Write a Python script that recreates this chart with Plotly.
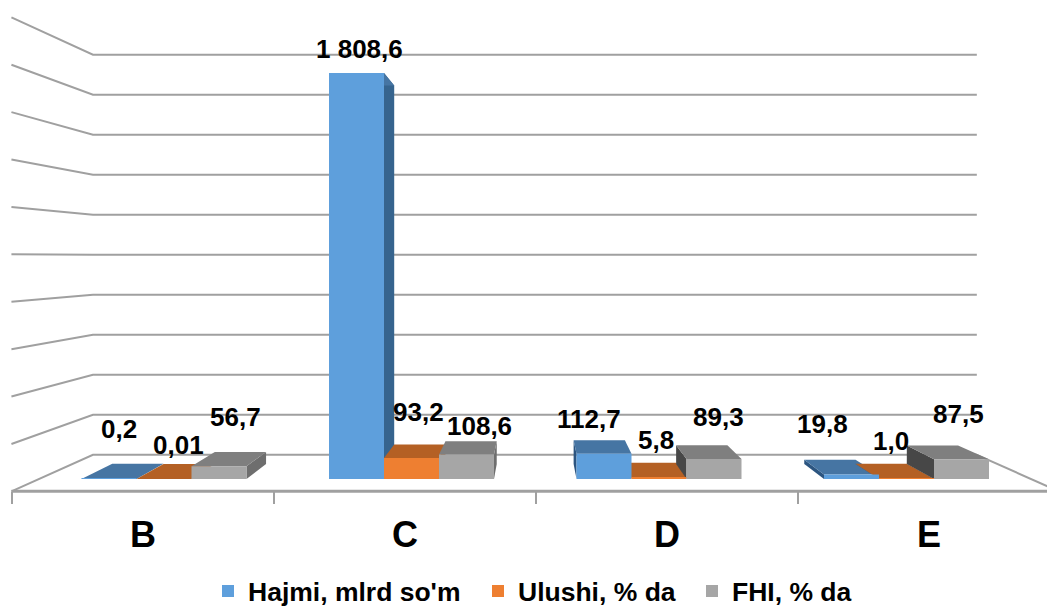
import plotly.graph_objects as go

categories = ["B", "C", "D", "E"]
series_names = ["Hajmi, mlrd so'm", "Ulushi, % da", "FHI, % da"]
hajmi = [0.2, 1808.6, 112.7, 19.8]
ulushi = [0.01, 93.2, 5.8, 1.0]
fhi = [56.7, 108.6, 89.3, 87.5]
hajmi_labels = ["0,2", "1 808,6", "112,7", "19,8"]
ulushi_labels = ["0,01", "93,2", "5,8", "1,0"]
fhi_labels = ["56,7", "108,6", "89,3", "87,5"]
grid_values = [0, 200, 400, 600, 800, 1000, 1200, 1400, 1600, 1800, 2000]

# styling
front_colors = ["#5E9FDC", "#EE7F31", "#A6A6A6"]
top_colors = ["#4675A3", "#B46024", "#7F7F7F"]
right_colors = ["#36648E", "#8F4C1D", "#6E6E6E"]
left_colors = ["#2C5580", "#7A4018", "#474747"]
grid_color = "#A0A0A0"
font = "Liberation Sans"

# axis mapping: value and group index to the page
W, H = 1047, 608
PX_X0, PX_PER_GROUP = 164.0, 247.5
PX_Y0, PX_PER_VAL = 479.0, 0.2245
x_range = [-PX_X0 / PX_PER_GROUP, (W - PX_X0) / PX_PER_GROUP]
y_range = [(PX_Y0 - H) / PX_PER_VAL, PX_Y0 / PX_PER_VAL]
BAR_W = 55 / PX_PER_GROUP

# perspective: everything recedes toward a vanishing point (data units)
VP_X, VP_V = (534 - PX_X0) / PX_PER_GROUP, (PX_Y0 - 257) / PX_PER_VAL
T_BAR, T_WALL, T_FRONT = 0.068, 0.109, -0.0557
WALL_L, WALL_R = (39 - PX_X0) / PX_PER_GROUP, (1031 - PX_X0) / PX_PER_GROUP


def proj(x, v, t):
    return x + (VP_X - x) * t, v + (VP_V - v) * t


def poly(points):
    xs, ys = zip(*points)
    return list(xs) + [xs[0]], list(ys) + [ys[0]]


fig = go.Figure()

# wall and floor lines
gx, gy = [], []
for v in grid_values:
    for p in (proj(WALL_L, v, T_FRONT), proj(WALL_L, v, T_WALL), proj(WALL_R, v, T_WALL)):
        gx.append(p[0])
        gy.append(p[1])
    gx.append(None)
    gy.append(None)
for p in (proj(WALL_R, 0, T_WALL), proj(WALL_R, 0, T_FRONT)):
    gx.append(p[0])
    gy.append(p[1])
fig.add_trace(go.Scatter(x=gx, y=gy, mode="lines", line=dict(color=grid_color, width=2),
                         showlegend=False, hoverinfo="skip", xaxis="x", yaxis="y"))
edge_pts = [proj(WALL_L, 0, T_FRONT), proj(WALL_R, 0, T_FRONT)]
fig.add_trace(go.Scatter(x=[p[0] for p in edge_pts], y=[p[1] for p in edge_pts], mode="lines",
                         line=dict(color=grid_color, width=3),
                         showlegend=False, hoverinfo="skip", xaxis="x", yaxis="y"))

# receding faces of the bars
all_values = [hajmi, ulushi, fhi]
for s, values in enumerate(all_values):
    for g, v in enumerate(values):
        left = g + (s - 1.5) * BAR_W
        right = left + BAR_W
        if right < VP_X:
            edge, color = right, right_colors[s]
        elif left > VP_X:
            edge, color = left, left_colors[s]
        else:
            edge = None
        if edge is not None:
            fx, fy = poly([proj(edge, 0, 0), proj(edge, v, 0), proj(edge, v, T_BAR), proj(edge, 0, T_BAR)])
            fig.add_trace(go.Scatter(x=fx, y=fy, mode="lines", fill="toself", fillcolor=color,
                                     line=dict(width=0), showlegend=False, hoverinfo="skip",
                                     xaxis="x2", yaxis="y2"))
        fx, fy = poly([proj(left, v, 0), proj(right, v, 0), proj(right, v, T_BAR), proj(left, v, T_BAR)])
        fig.add_trace(go.Scatter(x=fx, y=fy, mode="lines", fill="toself", fillcolor=top_colors[s],
                                 line=dict(width=0), showlegend=False, hoverinfo="skip",
                                 xaxis="x2", yaxis="y2"))

# front faces
legend_ids = ["legend", "legend2", "legend3"]
for s, values in enumerate(all_values):
    fig.add_trace(go.Bar(x=[0, 1, 2, 3], y=values, name=series_names[s], legend=legend_ids[s],
                         marker=dict(color=front_colors[s], line=dict(width=0)),
                         hoverinfo="skip", xaxis="x3", yaxis="y3"))

# category axis carrier
fig.add_trace(go.Scatter(x=categories, y=[0, 0, 0, 0], mode="markers", marker=dict(opacity=0),
                         showlegend=False, hoverinfo="skip", xaxis="x4", yaxis="y"))

# data labels, with offsets from each bar's top in pixels
all_labels = [hajmi_labels, ulushi_labels, fhi_labels]
label_dx = [[10, 3, -15, -29], [14, 7, -3, -16], [16, 13, 4, -3]]
label_dy = [[50, 24, 35, 51], [34, 46, 38, 38], [49, 29, 42, 45]]
annotations = []
for s, values in enumerate(all_values):
    for g, v in enumerate(values):
        annotations.append(dict(x=g + (s - 1) * BAR_W, y=v, xref="x3", yref="y3",
                                text=all_labels[s][g], showarrow=False,
                                xanchor="center", yanchor="middle",
                                xshift=label_dx[s][g], yshift=label_dy[s][g],
                                font=dict(family=font, size=26, color="#000000", weight="bold")))


def legend_at(px):
    return dict(orientation="h", x=px / W, xanchor="left", y=0.067, yanchor="top",
                font=dict(family=font, size=26.5, color="#000000", weight="bold"),
                bgcolor="rgba(0,0,0,0)", itemclick=False, itemdoubleclick=False)


hidden = dict(visible=False, showgrid=False, zeroline=False, fixedrange=True)
fig.update_layout(
    width=W, height=H, autosize=False,
    margin=dict(l=0, r=0, t=0, b=0, pad=0, autoexpand=False),
    paper_bgcolor="white", plot_bgcolor="white",
    barmode="group", bargap=1 / 3, bargroupgap=0,
    annotations=annotations,
    font=dict(family=font, color="#000000"),
    legend=legend_at(208),
    legend2=legend_at(478),
    legend3=legend_at(692),
    xaxis=dict(range=x_range, **hidden),
    yaxis=dict(range=y_range, **hidden),
    xaxis2=dict(range=x_range, overlaying="x", **hidden),
    yaxis2=dict(range=y_range, overlaying="y", **hidden),
    xaxis3=dict(range=x_range, overlaying="x", **hidden),
    yaxis3=dict(range=y_range, overlaying="y", **hidden),
    xaxis4=dict(type="category", categoryorder="array", categoryarray=categories,
                range=[(0 - 143) / 262, (W - 143) / 262], overlaying="x",
                anchor="free", position=1 - 491 / H, side="bottom",
                showline=False, showgrid=False, zeroline=False, fixedrange=True,
                tickson="boundaries", ticks="outside", ticklen=12, tickwidth=1.5,
                tickcolor=grid_color, ticklabelstandoff=19,
                tickfont=dict(family=font, size=36, color="#000000", weight="bold")),
)

fig.write_html("out.html", config=dict(displayModeBar=False),
               post_script="document.body.style.margin='0';")
